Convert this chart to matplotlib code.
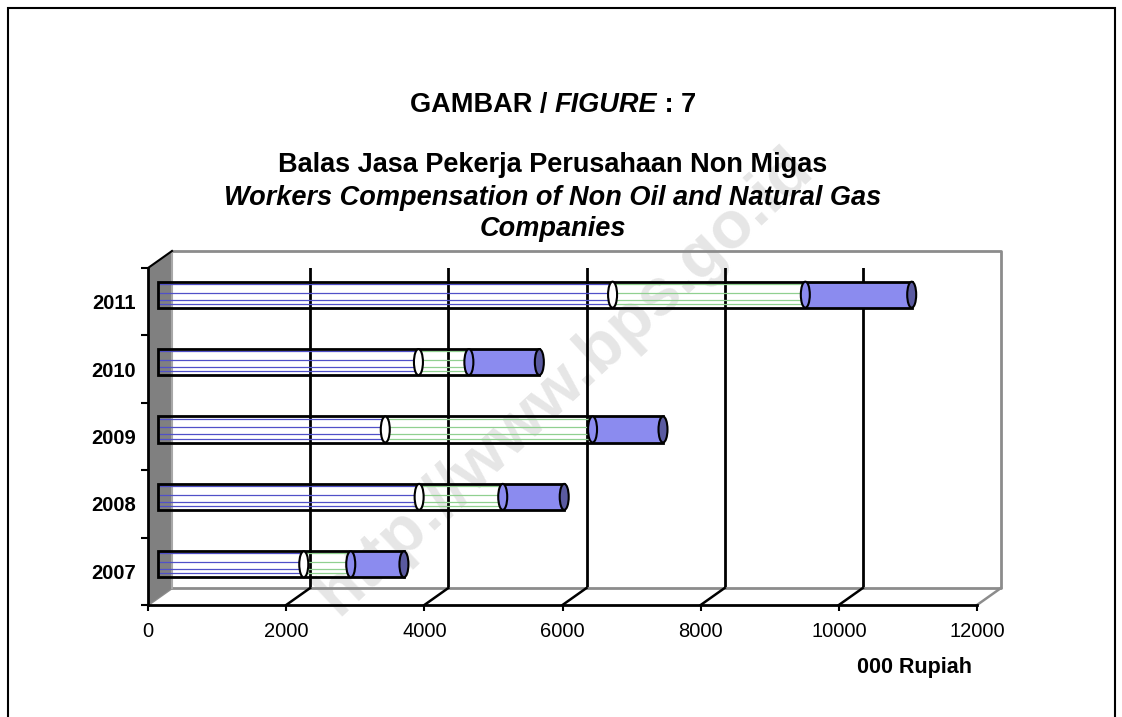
import numpy as np
import matplotlib.pyplot as plt
from matplotlib.patches import Polygon, Ellipse, Rectangle

plt.rcParams['font.family'] = ['Liberation Sans', 'DejaVu Sans']

# data (000 Rupiah), three stacked parts per year
years = ['2007', '2008', '2009', '2010', '2011']
seg1 = [2110, 3780, 3290, 3770, 6580]
seg2 = [680, 1210, 3000, 730, 2790]
seg3 = [770, 890, 1020, 1020, 1540]
xticks = [0, 2000, 4000, 6000, 8000, 10000, 12000]

W, H = 1122, 717
fig = plt.figure(figsize=(W / 100, H / 100), dpi=100)
ax = fig.add_axes([148 / W, 112 / H, 829 / W, 337 / H])
ax.set_xlim(0, 12000)
ax.set_ylim(-0.5, 4.5)
ax.patch.set_visible(False)

# pixel -> data units, for the fake 3d depth
px_x = 12000 / 829
px_y = 5 / 337
DX, DY = 24 * px_x, 17 * px_y   # back wall
BX, BY = 10 * px_x, 7 * px_y    # bars sit in the middle
xt = np.array(xticks)

# back wall grid + frame
ax.vlines(xt[1:-1] + DX, -0.5 + DY, 4.5 + DY, color='black', lw=2, zorder=1)
ax.plot([DX, 12000 + DX, 12000 + DX, DX], [4.5 + DY, 4.5 + DY, -0.5 + DY, -0.5 + DY],
        color='#8c8c8c', lw=2, clip_on=False, zorder=1)
# floor lines
for v in xticks:
    c = '#8c8c8c' if v in (0, 12000) else 'black'
    ax.plot([v, v + DX], [-0.5, -0.5 + DY], color=c, lw=1.8, clip_on=False, zorder=1)
# left wall
wall = Polygon([(0, -0.5), (0, 4.5), (DX, 4.5 + DY), (DX, -0.5 + DY)], closed=True,
               fc='#808080', ec='none', clip_on=False, zorder=1)
ax.add_patch(wall)
ax.plot([DX, DX], [-0.5 + DY, 4.5 + DY], color='#a8a8a8', lw=1.5, clip_on=False, zorder=1)
ax.plot([0, DX], [4.5, 4.5 + DY], color='black', lw=1.5, clip_on=False, zorder=2)

# bars: first two parts are see-through, last one solid
h = 0.386
fr = [0.15, 0.31, 0.58, 0.92]
for i in range(len(years)):
    y = i + BY
    s1, s2, s3 = seg1[i], seg2[i], seg3[i]
    ax.barh(y, s3, left=BX + s1 + s2, height=h, color='#8b8bef', edgecolor='none', zorder=3)
    for f in fr:
        yy = y - h / 2 + f * h
        ax.hlines(yy, BX, BX + s1, color='#5050c8', lw=0.9, zorder=4)
        ax.hlines(yy, BX + s1, BX + s1 + s2, color='#90d090', lw=0.9, zorder=4)
    ax.barh(y, s1 + s2 + s3, left=BX, height=h, fill=False, edgecolor='black', lw=2, zorder=5)
    ax.add_patch(Ellipse((BX + s1, y), 9 * px_x, h, fc='white', ec='black', lw=1.5, zorder=6))
    ax.add_patch(Ellipse((BX + s1 + s2, y), 9 * px_x, h, fc='#8b8bef', ec='black', lw=1.5, zorder=6))
    ax.add_patch(Ellipse((BX + s1 + s2 + s3, y), 9 * px_x, h, fc='#5a5aa0', ec='black', lw=1.5, zorder=6))

# axes
for s in ['top', 'right']:
    ax.spines[s].set_visible(False)
ax.spines['bottom'].set_linewidth(2)
ax.spines['left'].set_linewidth(2)
ax.spines['bottom'].set_zorder(7)
ax.spines['left'].set_zorder(7)
ax.set_xticks(xticks)
ax.set_xticklabels([str(v) for v in xticks], fontsize=14.5)
ax.tick_params(axis='x', direction='out', length=4, width=1.5, pad=8)
ax.set_yticks(range(len(years)))
ax.set_yticklabels(years, fontsize=14.5, fontweight='bold')
ax.set_yticks(np.arange(-0.5, 5, 1), minor=True)
ax.tick_params(axis='y', which='major', length=0, pad=9)
ax.tick_params(axis='y', which='minor', length=5, width=1.5, direction='out')

fig.text(972 / W, 1 - 668 / H, '000 Rupiah', ha='right', va='center', fontsize=15.5,
         fontweight='bold')

# titles
cx = 553 / W
parts = [('GAMBAR / ', 'normal'), ('FIGURE', 'italic'), (' : 7', 'normal')]
texts = [fig.text(0, 1 - 105 / H, p, fontsize=19.5, fontweight='bold', style=st, va='center')
         for p, st in parts]
r = fig.canvas.get_renderer()
widths = [t.get_window_extent(r).width / W for t in texts]
x0 = cx - sum(widths) / 2
for t, w in zip(texts, widths):
    t.set_x(x0)
    x0 += w
fig.text(cx, 1 - 165 / H, 'Balas Jasa Pekerja Perusahaan Non Migas', ha='center', va='center',
         fontsize=19.5, fontweight='bold')
fig.text(cx, 1 - 198 / H, 'Workers Compensation of Non Oil and Natural Gas', ha='center',
         va='center', fontsize=19.5, fontweight='bold', style='italic')
fig.text(cx, 1 - 229 / H, 'Companies', ha='center', va='center', fontsize=19.5,
         fontweight='bold', style='italic')

# watermark
fig.text(565 / W, 1 - 382 / H, 'http://www.bps.go.id', ha='center', va='center', rotation=43,
         fontsize=48, fontweight='bold', color='#e6e6e6', zorder=-1)

# outer frame
fig.add_artist(Rectangle((8 / W, -0.05), 1107 / W, 1.05 - 8 / H, transform=fig.transFigure,
                         fill=False, ec='black', lw=1.5))

fig.savefig('out.png', dpi=100)
